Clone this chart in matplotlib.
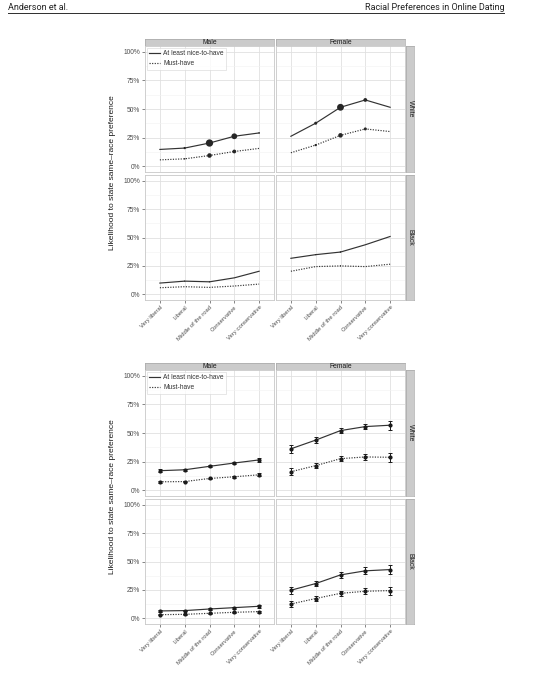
import matplotlib
matplotlib.use("Agg")
import matplotlib.pyplot as plt
import numpy as np

plt.rcParams['font.family'] = ['Liberation Sans', 'DejaVu Sans']

categories = ["Very liberal", "Liberal", "Middle of the road", "Conservative", "Very conservative"]
genders = ["Male", "Female"]
races = ["White", "Black"]
y_ticks = [0, 25, 50, 75, 100]
y_tick_labels = ["0%", "25%", "50%", "75%", "100%"]
series_labels = ["At least nice-to-have", "Must-have"]

# ---- Figure 1: raw proportions (percent) ----
raw_nice_male_white = [14.7, 15.9, 20.3, 26.2, 29.1]
raw_must_male_white = [5.6, 6.5, 9.4, 12.9, 15.6]
raw_nice_female_white = [26.2, 37.6, 51.5, 57.9, 51.5]
raw_must_female_white = [11.8, 18.5, 27.0, 32.6, 30.3]
raw_nice_male_black = [9.9, 11.6, 11.0, 14.5, 20.3]
raw_must_male_black = [5.8, 6.7, 6.1, 7.3, 9.0]
raw_nice_female_black = [31.7, 34.9, 37.2, 43.6, 50.9]
raw_must_female_black = [20.3, 24.4, 25.0, 24.4, 26.5]

# point sizes (relative weight of each group)
size_nice_male_white = [0.0, 1.5, 4.8, 3.8, 1.0]
size_must_male_white = [0.0, 1.0, 3.0, 2.5, 0.0]
size_nice_female_white = [0.0, 2.0, 4.5, 2.5, 0.0]
size_must_female_white = [0.0, 1.5, 3.0, 2.0, 0.0]
size_nice_male_black = [0.0, 0.8, 0.8, 0.0, 0.0]
size_must_male_black = [0.0, 0.0, 0.0, 0.0, 0.0]
size_nice_female_black = [0.0, 0.8, 1.0, 0.0, 0.0]
size_must_female_black = [0.0, 0.0, 0.8, 0.0, 0.0]

# ---- Figure 2: modelled probabilities (percent) with error half-widths ----
mod_nice_male_white = [17.1, 17.9, 20.9, 23.8, 26.5]
err_nice_male_white = [1.2, 1.0, 0.8, 0.9, 1.5]
mod_must_male_white = [7.4, 7.6, 10.3, 11.8, 13.5]
err_must_male_white = [0.8, 0.6, 0.6, 0.7, 1.2]
mod_nice_female_white = [36.2, 43.8, 52.1, 55.6, 56.8]
err_nice_female_white = [3.5, 2.5, 2.0, 2.5, 4.0]
mod_must_female_white = [16.2, 21.5, 27.6, 29.1, 28.8]
err_must_female_white = [3.0, 2.2, 2.0, 2.5, 4.0]
mod_nice_male_black = [6.5, 6.8, 8.2, 9.4, 10.6]
err_nice_male_black = [1.0, 0.8, 0.8, 0.8, 1.2]
mod_must_male_black = [3.2, 3.5, 4.4, 5.3, 5.9]
err_must_male_black = [0.6, 0.5, 0.5, 0.6, 0.8]
mod_nice_female_black = [24.7, 30.6, 38.2, 41.8, 42.9]
err_nice_female_black = [3.0, 2.5, 2.5, 3.0, 4.0]
mod_must_female_black = [12.6, 17.4, 22.0, 23.8, 24.4]
err_must_female_black = [2.5, 2.0, 2.0, 2.5, 3.5]

raw = {
    ("White", "Male"): (raw_nice_male_white, raw_must_male_white, size_nice_male_white, size_must_male_white),
    ("White", "Female"): (raw_nice_female_white, raw_must_female_white, size_nice_female_white, size_must_female_white),
    ("Black", "Male"): (raw_nice_male_black, raw_must_male_black, size_nice_male_black, size_must_male_black),
    ("Black", "Female"): (raw_nice_female_black, raw_must_female_black, size_nice_female_black, size_must_female_black),
}
mod = {
    ("White", "Male"): (mod_nice_male_white, err_nice_male_white, mod_must_male_white, err_must_male_white),
    ("White", "Female"): (mod_nice_female_white, err_nice_female_white, mod_must_female_white, err_must_female_white),
    ("Black", "Male"): (mod_nice_male_black, err_nice_male_black, mod_must_male_black, err_must_male_black),
    ("Black", "Female"): (mod_nice_female_black, err_nice_female_black, mod_must_female_black, err_must_female_black),
}

W, H = 535, 680
fig = plt.figure(figsize=(W / 100, H / 100), dpi=100)
fig.patch.set_facecolor("white")


def add_px(x0, y0, x1, y1, **kw):
    return fig.add_axes([x0 / W, 1 - y1 / H, (x1 - x0) / W, (y1 - y0) / H], **kw)


LINE_C = "#333333"
DOT = (0, (1.0, 1.2))
STRIP_FILL = "#CBCBCB"
STRIP_EDGE = "#A8A8A8"

# header
fig.text(8 / W, 1 - 8 / H, "Anderson et al.", fontsize=6.5, family=["Roboto", "DejaVu Sans"],
         color="#222222", ha="left", va="center")
fig.text(505 / W, 1 - 8 / H, "Racial Preferences in Online Dating", fontsize=6.5,
         family=["Roboto", "DejaVu Sans"], color="#222222", ha="right", va="center")
hl = add_px(8, 12.5, 505, 13.5)
hl.set_facecolor("#333333")
hl.set_xticks([]); hl.set_yticks([])
for s in hl.spines.values():
    s.set_visible(False)


def style_panel(ax, show_y, show_x):
    ax.set_xlim(-0.6, len(categories) - 1 + 0.6)
    ax.set_ylim(-5, 105)
    ax.set_facecolor("white")
    ax.set_yticks(y_ticks)
    ax.set_yticks([12.5, 37.5, 62.5, 87.5], minor=True)
    ax.set_xticks(range(len(categories)))
    ax.grid(which="major", color="#E0E0E0", linewidth=0.6)
    ax.grid(which="minor", axis="y", color="#F2F2F2", linewidth=0.4)
    ax.set_axisbelow(True)
    for s in ax.spines.values():
        s.set_color("#C8C8C8")
        s.set_linewidth(0.6)
    ax.tick_params(which="minor", length=0)
    ax.tick_params(which="major", length=2, width=0.5, color="#555555", pad=1.5,
                   labelsize=4.8, labelcolor="#4D4D4D")
    if show_y:
        ax.set_yticklabels(y_tick_labels)
    else:
        ax.tick_params(axis="y", length=0, labelleft=False)
    if show_x:
        ax.set_xticklabels(categories, rotation=45, ha="right", rotation_mode="anchor", fontsize=4.2)
    else:
        ax.tick_params(axis="x", length=0, labelbottom=False)


def strip(x0, y0, x1, y1, text, rot=0):
    sa = add_px(x0, y0, x1, y1)
    sa.set_xticks([]); sa.set_yticks([])
    sa.set_facecolor(STRIP_FILL)
    for s in sa.spines.values():
        s.set_color(STRIP_EDGE)
        s.set_linewidth(0.5)
    sa.text(0.5, 0.5, text, transform=sa.transAxes, ha="center", va="center",
            fontsize=4.9, color="#1A1A1A", rotation=rot)


def facet_grid(top, mode):
    cols = [(145, 274), (276, 405)]
    strip_h = 7
    rows = [(top + strip_h, top + strip_h + 126), (top + strip_h + 129, top + strip_h + 254)]
    for (x0, x1), g in zip(cols, genders):
        strip(x0, top, x1, top + strip_h, g)
    for (y0, y1), r in zip(rows, races):
        strip(406, y0, 414, y1, r, rot=270)
    first = None
    for ri, ((y0, y1), r) in enumerate(zip(rows, races)):
        for ci, ((x0, x1), g) in enumerate(zip(cols, genders)):
            ax = add_px(x0, y0, x1, y1)
            style_panel(ax, ci == 0, ri == 1)
            xs = np.arange(len(categories))
            if mode == "raw":
                nice, must, sn, sm = raw[(r, g)]
                ax.plot(xs, nice, color=LINE_C, lw=0.85, label=series_labels[0])
                ax.plot(xs, must, color=LINE_C, lw=0.85, ls=DOT, label=series_labels[1])
                ax.scatter(xs, nice, s=np.array(sn) ** 2 * 1.2, color="#262626", zorder=3, linewidths=0)
                ax.scatter(xs, must, s=np.array(sm) ** 2 * 1.2, color="#262626", zorder=3, linewidths=0)
            else:
                nice, en, must, em = mod[(r, g)]
                ax.plot(xs, nice, color=LINE_C, lw=0.85, label=series_labels[0])
                ax.plot(xs, must, color=LINE_C, lw=0.85, ls=DOT, label=series_labels[1])
                ax.errorbar(xs, nice, yerr=en, fmt="o", ms=2.0, color="#1A1A1A", elinewidth=0.7,
                            capsize=1.6, capthick=0.7)
                ax.errorbar(xs, must, yerr=em, fmt="o", ms=2.0, color="#1A1A1A", elinewidth=0.7,
                            capsize=1.6, capthick=0.7)
            if first is None:
                first = ax
    leg = first.legend(loc="upper left", fontsize=4.8, frameon=True, fancybox=False,
                       handlelength=1.6, handletextpad=0.5, borderpad=0.35, labelspacing=0.5,
                       borderaxespad=0.25)
    leg.get_frame().set_edgecolor("#D5D5D5")
    leg.get_frame().set_linewidth(0.5)
    for t in leg.get_texts():
        t.set_color("#333333")
    yc = (rows[0][0] + rows[1][1]) / 2
    fig.text(112 / W, 1 - yc / H, "Likelihood to state same\u2013race preference", rotation=90,
             ha="center", va="center", fontsize=6.0, color="#1A1A1A")


facet_grid(39, "raw")
facet_grid(363, "mod")

fig.savefig("out.png", dpi=100, facecolor="white")
